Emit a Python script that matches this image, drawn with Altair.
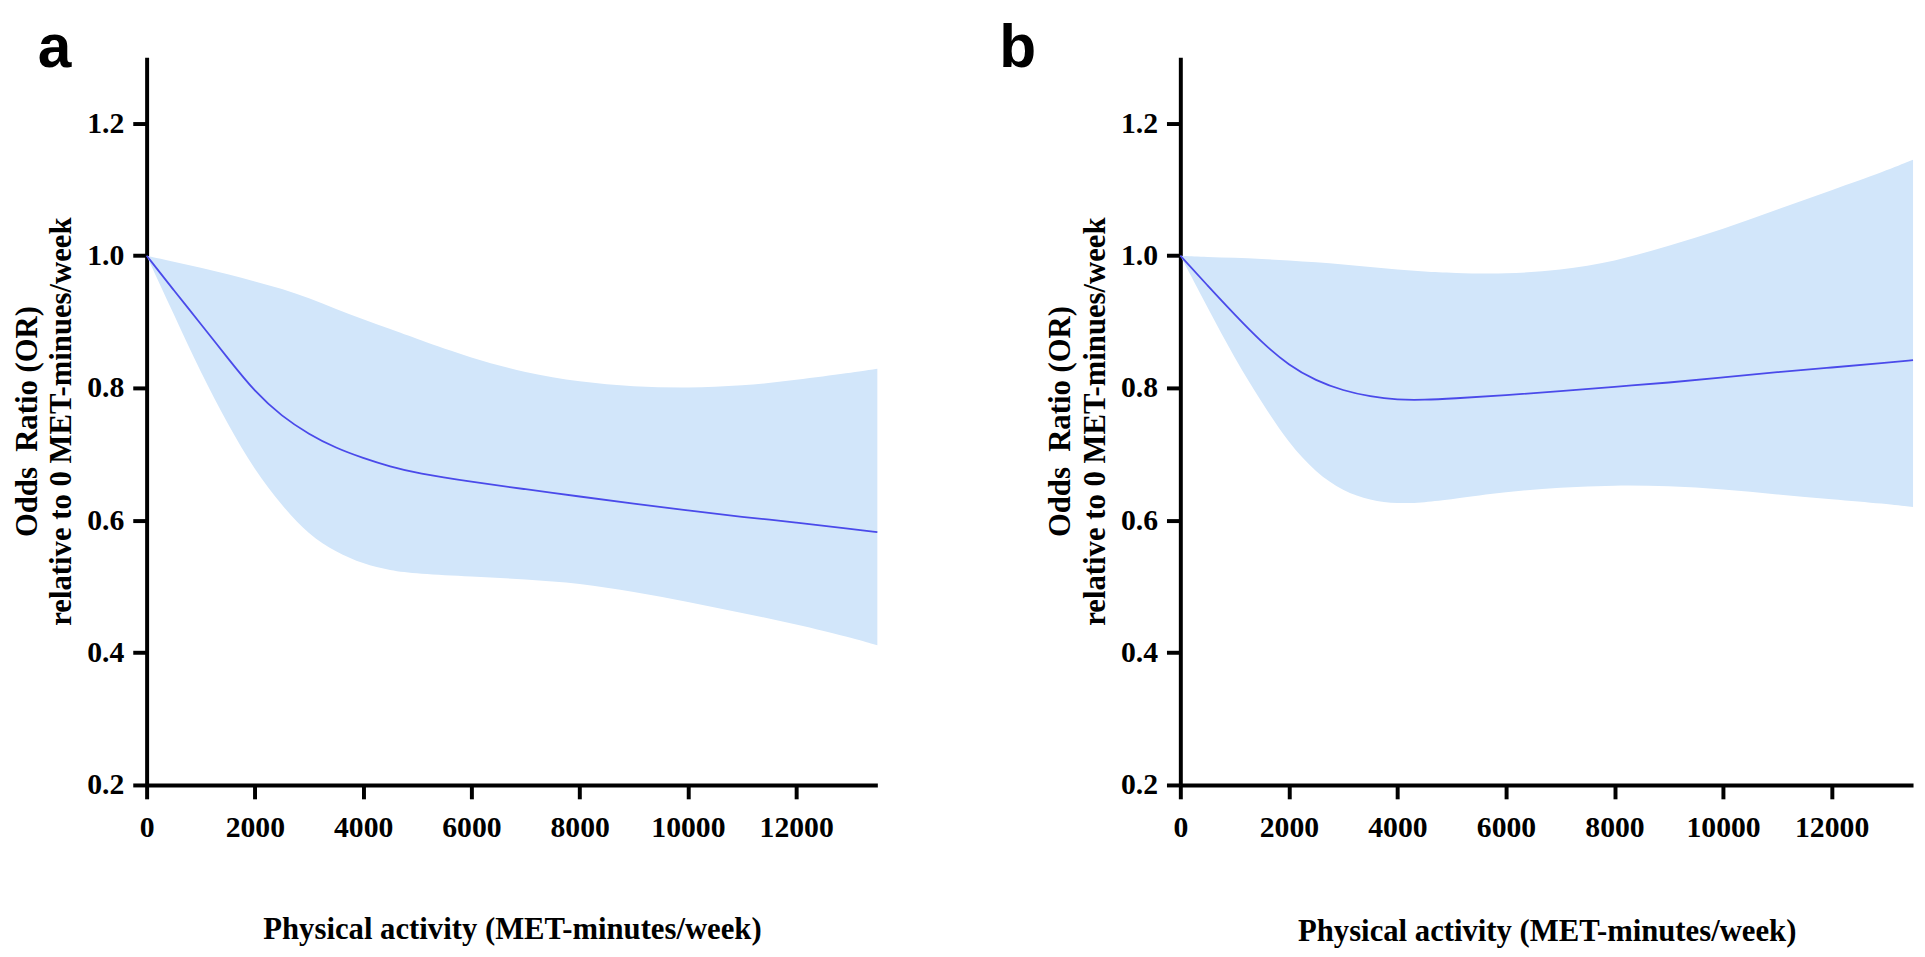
import altair as alt
import pandas as pd

# ---------------- data ----------------
X_GRID = [0, 500, 1000, 1500, 2000, 2500, 3000, 3500, 4000, 4500, 5000, 6000,
          7000, 8000, 9000, 10000, 11000, 12000, 13000, 13500]

A_OR = [1.000, 0.948, 0.897, 0.845, 0.794, 0.757, 0.730, 0.709, 0.694, 0.681, 0.671,
        0.658, 0.647, 0.636, 0.625, 0.615, 0.605, 0.597, 0.587, 0.582]
A_HI = [1.000, 0.991, 0.982, 0.972, 0.961, 0.950, 0.936, 0.919, 0.904, 0.889, 0.874,
        0.845, 0.823, 0.809, 0.802, 0.800, 0.803, 0.812, 0.823, 0.829]
A_LO = [1.000, 0.912, 0.823, 0.745, 0.675, 0.622, 0.578, 0.552, 0.534, 0.524, 0.519,
        0.515, 0.511, 0.505, 0.492, 0.477, 0.460, 0.443, 0.423, 0.411]

B_OR = [1.000, 0.955, 0.911, 0.869, 0.834, 0.811, 0.796, 0.787, 0.782, 0.782, 0.784,
        0.789, 0.795, 0.802, 0.808, 0.816, 0.824, 0.831, 0.838, 0.842]
B_HI = [1.000, 0.998, 0.997, 0.995, 0.993, 0.990, 0.987, 0.983, 0.979, 0.976, 0.974,
        0.972, 0.978, 0.991, 1.015, 1.040, 1.070, 1.099, 1.128, 1.145]
B_LO = [1.000, 0.922, 0.845, 0.778, 0.716, 0.672, 0.644, 0.630, 0.625, 0.627, 0.632,
        0.643, 0.650, 0.653, 0.652, 0.647, 0.639, 0.632, 0.625, 0.620]

X_TICKS = [0, 2000, 4000, 6000, 8000, 10000, 12000]
Y_TICKS = [0.2, 0.4, 0.6, 0.8, 1.0, 1.2]
X_TITLE = "Physical activity (MET-minutes/week)"
Y_TITLE = ["Odds\u00a0 Ratio (OR)", "relative to 0 MET-minues/week"]

BAND = "#D2E6FA"
LINE = "#4A4AEA"
SERIF = "Liberation Serif"


def panel(est, lo, hi, letter, letter_dx, width, x_title_pad):
    df = pd.DataFrame({"x": X_GRID, "est": est, "lo": lo, "hi": hi})
    xs = alt.Scale(domain=[0, 13500], nice=False, zero=False)
    ys = alt.Scale(domain=[0.2, 1.3], nice=False, zero=False)
    xax = alt.Axis(values=X_TICKS, format="d", title=X_TITLE, labelFlush=False,
                   labelPadding=14, titlePadding=x_title_pad)
    yax = alt.Axis(values=Y_TICKS, format=".1f", title=Y_TITLE,
                   labelPadding=9, titlePadding=9, titleLineHeight=35)
    band = alt.Chart(df).mark_area(color=BAND, opacity=1, interpolate="basis").encode(
        x=alt.X("x:Q", scale=xs, axis=xax),
        y=alt.Y("lo:Q", scale=ys, axis=yax),
        y2="hi:Q",
    )
    line = alt.Chart(df).mark_line(color=LINE, strokeWidth=1.8, interpolate="basis").encode(
        x=alt.X("x:Q", scale=xs, axis=xax),
        y=alt.Y("est:Q", scale=ys, axis=yax),
    )
    # invisible spacer that reserves the strip above the plot for the panel letter
    spacer = alt.Chart(pd.DataFrame({"t": [letter]})).mark_rule(opacity=0, strokeWidth=1).encode(
        x=alt.value(0), x2=alt.value(1), y=alt.value(-45), y2=alt.value(-45)
    )
    lab = alt.Chart(pd.DataFrame({"t": [letter]})).mark_text(
        font="Liberation Sans", fontWeight="bold", fontSize=61,
        align="left", baseline="alphabetic", color="black",
    ).encode(text="t:N", x=alt.value(letter_dx), y=alt.value(10))
    return alt.layer(band, line, spacer, lab).properties(width=width, height=735)


pa = panel(A_OR, A_LO, A_HI, "a", -110, 738, 73)
pb = panel(B_OR, B_LO, B_HI, "b", -183, 740, 75)

chart = alt.hconcat(pa, pb, spacing=119).properties(
    padding={"left": 3, "top": 0, "right": 0, "bottom": 0}
).configure_view(stroke=None).configure_axis(
    domainColor="black", domainWidth=4, tickColor="black", tickWidth=4, tickSize=14,
    grid=False,
    labelFont=SERIF, labelFontWeight="bold", labelFontSize=30, labelColor="black",
    titleFont=SERIF, titleFontWeight="bold", titleFontSize=31, titleColor="black",
)

chart.save("out.html", embed_options={"renderer": "svg", "actions": False})
